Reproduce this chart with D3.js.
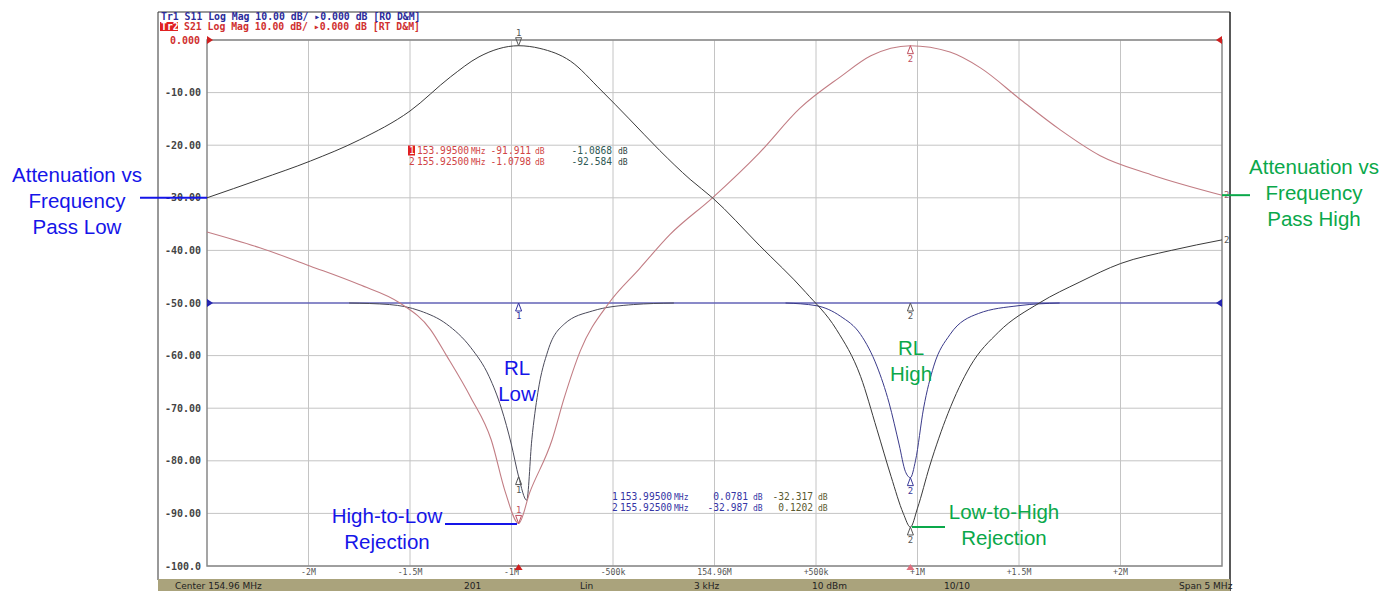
<!DOCTYPE html>
<html>
<head>
<meta charset="utf-8">
<script src="https://cdn.jsdelivr.net/npm/d3@7"></script>
<style>
  body { margin: 0; background: #fff; }
  svg { display: block; }
  .mono { font-family: 'DejaVu Sans Mono', monospace; }
  .note { font-family: 'Liberation Sans', Arial, sans-serif; font-size: 20.5px; }
</style>
</head>
<body>
<script>
// frequency offsets are MHz from the 154.96 MHz centre
const xTicks = [-2, -1.5, -1, -0.5, 0, 0.5, 1, 1.5, 2]
const xTickLabels = ['-2M', '-1.5M', '-1M', '-500k', '154.96M', '+500k', '+1M', '+1.5M', '+2M']
const yTicks = [0, -10, -20, -30, -40, -50, -60, -70, -80, -90, -100]
const yTickLabels = ['0.000', '-10.00', '-20.00', '-30.00', '-40.00', '-50.00', '-60.00', '-70.00', '-80.00', '-90.00', '-100.0']

// S21 pass low (dark trace)
const passLowFreq = [-2.5, -2.24, -1.99, -1.75, -1.5, -1.3, -1.16, -0.965, -0.86, -0.71, -0.56, -0.42, -0.27, -0.12, -0.01,
  0.22, 0.45, 0.6, 0.72, 0.8, 0.87, 0.93, 0.965, 1.0, 1.06, 1.15, 1.26, 1.4, 1.6, 1.8, 2.0, 2.25, 2.5]
const passLowDb = [-30, -26.5, -23, -19, -13.5, -7, -3.2, -1.09, -1.6, -4, -9.5, -15, -21, -26.5, -30,
  -39, -48, -55, -64, -74, -83, -90, -92.6, -89, -81, -71, -62, -55.5, -50, -46, -42.5, -40, -38]

// S21 pass high (pink trace)
const passHighFreq = [-2.5, -2.24, -1.99, -1.75, -1.55, -1.4, -1.32, -1.2, -1.1, -1.03, -0.965, -0.91, -0.8, -0.74, -0.66, -0.52,
  -0.37, -0.22, -0.01, 0.22, 0.42, 0.62, 0.77, 0.965, 1.16, 1.31, 1.51, 1.7, 1.9, 2.15, 2.5]
const passHighDb = [-36.5, -39.5, -43, -46.5, -50, -55, -60, -68, -76, -86, -91.9, -86, -76, -68, -59, -50,
  -43.5, -37, -30, -21.5, -13, -7, -3, -1.08, -2.3, -5.3, -11.4, -17, -22, -25.6, -29.5]

// return loss traces
const rlLowFreq = [-1.8, -1.6, -1.45, -1.32, -1.2, -1.11, -1.05, -1.0, -0.965, -0.925, -0.9, -0.87, -0.82, -0.74, -0.6, -0.4, -0.2]
const rlLowDb = [-50, -50.3, -51.5, -54, -58.5, -64, -70, -77, -83, -87.5, -76, -67, -59, -54, -51.5, -50.3, -50]
const rlHighFreq = [0.35, 0.5, 0.62, 0.72, 0.8, 0.86, 0.91, 0.94, 0.965, 0.99, 1.03, 1.08, 1.16, 1.3, 1.5, 1.7]
const rlHighDb = [-50, -50.5, -52.5, -56, -62, -69, -77, -82, -83.2, -80, -70, -62, -56, -52, -50.5, -50]
const flatFreq = [-2.5, 2.5]
const flatDb = [-50, -50]

const markerFreq = [-0.965, 0.965]
const markerFreqText = ['153.99500', '155.92500']
const tableA1 = ['-91.911', '-1.0798']
const tableA2 = ['-1.0868', '-92.584']
const tableB1 = ['0.0781', '-32.987']
const tableB2 = ['-32.317', '0.1202']
const statusItems = [['Center 154.96 MHz', 175], ['201', 464], ['Lin', 580], ['3 kHz', 694], ['10 dBm', 812], ['10/10', 944], ['Span 5 MHz', 1179]]

;(function () {
  const W = 1397
  const H = 591
  const svg = d3.select('body').append('svg')
    .attr('width', W)
    .attr('height', H)

  const x = d3.scaleLinear().domain([-2.5, 2.5]).range([207, 1222])
  const y = d3.scaleLinear().domain([0, -100]).range([40, 566])

  // instrument frame
  svg.append('line').attr('x1', 158).attr('x2', 1230).attr('y1', 12).attr('y2', 12).attr('stroke', '#333')
  svg.append('line').attr('x1', 158).attr('x2', 158).attr('y1', 12).attr('y2', 580).attr('stroke', '#333')
  svg.append('line').attr('x1', 1230).attr('x2', 1230).attr('y1', 12).attr('y2', 591).attr('stroke', '#222').attr('stroke-width', 1.5)

  // header
  const hdr = svg.append('g').attr('class', 'mono').style('font-size', '9.8px').style('font-weight', 'bold')
  hdr.append('text').attr('x', 161).attr('y', 20).attr('fill', '#2b2b9a')
    .text('Tr1 S11 Log Mag 10.00 dB/ \u25B80.000 dB [RO D&M]')
  hdr.append('rect').attr('x', 160).attr('y', 22).attr('width', 18).attr('height', 9).attr('fill', '#e02020')
  hdr.append('text').attr('x', 161).attr('y', 30).attr('fill', '#fff').text('Tr2')
  hdr.append('text').attr('x', 184).attr('y', 30).attr('fill', '#d03030')
    .text('S21 Log Mag 10.00 dB/ \u25B80.000 dB [RT D&M]')

  // grid
  const grid = svg.append('g')
  grid.selectAll('.hg').data(yTicks).enter().append('line')
    .attr('x1', x(-2.5)).attr('x2', x(2.5))
    .attr('y1', d => y(d)).attr('y2', d => y(d))
    .attr('stroke', '#c4c4c4')
  grid.selectAll('.vg').data(xTicks).enter().append('line')
    .attr('x1', d => x(d)).attr('x2', d => x(d))
    .attr('y1', y(0)).attr('y2', y(-100))
    .attr('stroke', '#c4c4c4')
  svg.append('rect')
    .attr('x', x(-2.5)).attr('y', y(0))
    .attr('width', x(2.5) - x(-2.5)).attr('height', y(-100) - y(0))
    .attr('fill', 'none').attr('stroke', '#888').attr('stroke-width', 1.5)

  // y labels
  svg.append('g').attr('class', 'mono').style('font-size', '10px').style('font-weight', 'bold')
    .selectAll('text').data(yTicks).enter().append('text')
    .attr('x', (d, i) => i === 0 ? 200 : 201)
    .attr('y', d => y(d) + 3.5)
    .attr('text-anchor', 'end')
    .attr('fill', (d, i) => i === 0 ? '#d03030' : '#444')
    .text((d, i) => yTickLabels[i])

  // x labels
  svg.append('g').attr('class', 'mono').style('font-size', '8.2px')
    .selectAll('text').data(xTicks).enter().append('text')
    .attr('x', d => x(d))
    .attr('y', 575)
    .attr('text-anchor', 'middle')
    .attr('fill', '#555')
    .text((d, i) => xTickLabels[i])

  // reference arrows
  const tri = (cx, cy, dir) => dir > 0
    ? `M${cx},${cy - 4}L${cx + 6},${cy}L${cx},${cy + 4}Z`
    : `M${cx},${cy - 4}L${cx - 6},${cy}L${cx},${cy + 4}Z`
  svg.append('path').attr('d', tri(x(-2.5), y(0), 1)).attr('fill', '#d02020')
  svg.append('path').attr('d', tri(x(-2.5), y(-50), 1)).attr('fill', '#2020b0')
  svg.append('path').attr('d', tri(x(2.5), y(0), -1)).attr('fill', '#d02020')
  svg.append('path').attr('d', tri(x(2.5), y(-50), -1)).attr('fill', '#2020b0')

  // traces
  const line = d3.line()
    .x(d => x(d[0]))
    .y(d => y(d[1]))
    .curve(d3.curveMonotoneX)
  const addTrace = (fs, vs, color, w) => svg.append('path')
    .datum(fs.map((f, i) => [f, vs[i]]))
    .attr('d', line)
    .attr('fill', 'none')
    .attr('stroke', color)
    .attr('stroke-width', w)

  addTrace(flatFreq, flatDb, '#3333b0', 1.2)
  addTrace(rlLowFreq, rlLowDb, '#4a4a5a', 1)
  addTrace(rlHighFreq, rlHighDb, '#3a3a8a', 1)
  addTrace(passHighFreq, passHighDb, '#c27d84', 1.1)
  addTrace(passLowFreq, passLowDb, '#3a3a3a', 1)

  // markers: dir 'down' = label above with down triangle, 'up' = triangle below with label under
  const mk = svg.append('g').attr('class', 'mono').style('font-size', '9px')
  const marker = (f, v, num, dir, color) => {
    const cx = x(f)
    const cy = y(v)
    if (dir === 'down') {
      mk.append('path').attr('d', `M${cx - 3},${cy - 8}L${cx + 3},${cy - 8}L${cx},${cy}Z`)
        .attr('fill', 'none').attr('stroke', color)
      mk.append('text').attr('x', cx).attr('y', cy - 10).attr('text-anchor', 'middle').attr('fill', color).text(num)
    } else {
      mk.append('path').attr('d', `M${cx - 3},${cy + 8}L${cx + 3},${cy + 8}L${cx},${cy}Z`)
        .attr('fill', 'none').attr('stroke', color)
      mk.append('text').attr('x', cx).attr('y', cy + 16).attr('text-anchor', 'middle').attr('fill', color).text(num)
    }
  }
  marker(markerFreq[0], +tableA2[0], '1', 'down', '#555')
  marker(markerFreq[1], +tableA2[1], '2', 'up', '#555')
  marker(markerFreq[0], +tableA1[0], '1', 'down', '#c05060')
  marker(markerFreq[1], +tableA1[1], '2', 'up', '#c05060')
  marker(markerFreq[0], -50, '1', 'up', '#3030a0')
  marker(markerFreq[1], -50, '2', 'up', '#555')
  marker(markerFreq[0], -83, '1', 'up', '#555')
  marker(markerFreq[1], -83.2, '2', 'up', '#3a3a9a')

  // end-of-trace numbers
  mk.append('text').attr('x', x(2.5) + 2).attr('y', y(-29.5) + 3).attr('fill', '#a06070').text('2')
  mk.append('text').attr('x', x(2.5) + 2).attr('y', y(-38) + 3).attr('fill', '#555').text('2')

  // stimulus arrows at bottom
  markerFreq.forEach((f, i) => {
    svg.append('path').attr('d', `M${x(f) - 4},${570}L${x(f) + 4},${570}L${x(f)},${564}Z`)
      .attr('fill', i === 0 ? '#d02020' : '#e07080')
  })

  // marker tables, column offsets from the left edge
  const table = (v1, v2, tx, ty, c) => {
    const g = svg.append('g').attr('class', 'mono')
    markerFreqText.forEach((f, i) => {
      const yy = ty + i * 11
      const t = (xx, s, fill, size, anchor) => g.append('text')
        .attr('x', tx + xx).attr('y', yy)
        .attr('text-anchor', anchor || 'start')
        .style('font-size', size + 'px')
        .attr('fill', fill).text(s)
      if (c.box && i === 0) {
        g.append('rect').attr('x', tx - 3).attr('y', yy - 8.5).attr('width', 7).attr('height', 10).attr('fill', '#e02020')
        t(-2, '1', '#fff', 9.6)
      } else {
        t(-2, String(i + 1), c.c1, 9.6)
      }
      t(c.cols[0], f, c.c1, 9.6)
      t(c.cols[1], 'MHz', c.c1, 8)
      t(c.cols[2], v1[i], c.c1, 9.6, 'end')
      t(c.cols[3], 'dB', c.c1, 8)
      t(c.cols[4], v2[i], c.c2, 9.6, 'end')
      t(c.cols[5], 'dB', c.c3, 8)
    })
  }
  table(tableA1, tableA2, 411, 154, { box: true, cols: [6, 60, 120, 124, 201, 207], c1: '#d04545', c2: '#2f5a55', c3: '#2f3f3f' })
  table(tableB1, tableB2, 614, 500, { box: false, cols: [6, 60, 134, 139, 199, 204], c1: '#3535a5', c2: '#5a5a30', c3: '#5a5a30' })

  // status bar
  svg.append('rect').attr('x', 158).attr('y', 579).attr('width', 1072).attr('height', 12).attr('fill', '#aaa37c')
  svg.append('g').style('font-family', "'DejaVu Sans', sans-serif").style('font-size', '9px')
    .selectAll('text').data(statusItems).enter().append('text')
    .attr('x', d => d[1]).attr('y', 589)
    .attr('fill', '#222')
    .text(d => d[0])

  // annotations
  const blue = '#1515e8'
  const green = '#0aa84a'
  const note = (lines, cx, cy, color) => {
    const t = svg.append('text').attr('class', 'note').attr('fill', color).attr('text-anchor', 'middle')
    lines.forEach((s, i) => t.append('tspan').attr('x', cx).attr('y', cy + i * 26).text(s))
  }
  note(['Attenuation vs', 'Frequency', 'Pass Low'], 77, 182, blue)
  note(['Attenuation vs', 'Frequency', 'Pass High'], 1314, 174, green)
  note(['RL', 'Low'], 517, 375, blue)
  note(['RL', 'High'], 911, 355, green)
  note(['High-to-Low', 'Rejection'], 387, 523, blue)
  note(['Low-to-High', 'Rejection'], 1004, 519, green)

  const pointer = (x1, x2, yy, color) => svg.append('line')
    .attr('x1', x1).attr('x2', x2).attr('y1', yy).attr('y2', yy)
    .attr('stroke', color).attr('stroke-width', 2)
  pointer(140, x(-2.5), y(-30), blue)
  pointer(x(2.5), 1250, y(-29.5), green)
  pointer(445, 517, 524, blue)
  pointer(912, 945, 527, green)
})()
</script>
</body>
</html>
